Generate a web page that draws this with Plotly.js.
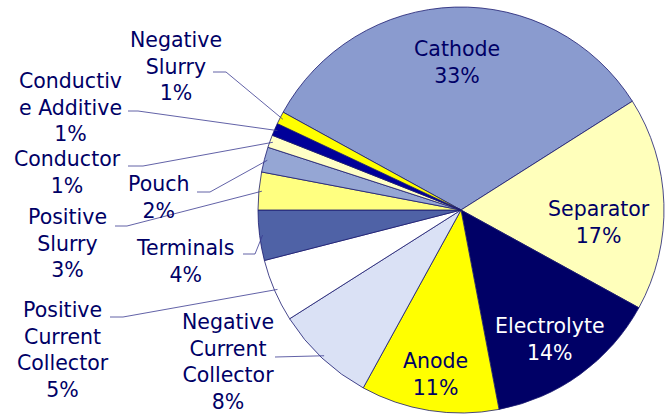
<!DOCTYPE html>
<html>
<head>
<meta charset="utf-8">
<script src="https://cdn.plot.ly/plotly-3.0.1.min.js"></script>
<style>html,body{margin:0;padding:0;background:#fff;}#chart{width:672px;height:414px;}</style>
</head>
<body>
<div id="chart"></div>
<script>
// ---- data ----
var categories = ["Cathode", "Separator", "Electrolyte", "Anode", "Negative Current Collector",
  "Positive Current Collector", "Terminals", "Positive Slurry", "Pouch", "Conductor",
  "Conductive Additive", "Negative Slurry"];
var labelText = ["Cathode", "Separator", "Electrolyte", "Anode", "Negative<br>Current<br>Collector",
  "Positive<br>Current<br>Collector", "Terminals", "Positive<br>Slurry", "Pouch", "Conductor",
  "Conductiv<br>e Additive", "Negative<br>Slurry"];
var values = [33, 17, 14, 11, 8, 5, 4, 3, 2, 1, 1, 1];

// ---- styles / layout ----
var colors = ["#8A9BCF", "#FFFFBB", "#000066", "#FFFF00", "#DAE1F5", "#FFFFFF",
  "#4F62A6", "#FFFF80", "#95A6D4", "#FFFFC6", "#000099", "#FFFF00"];
var W = 672, H = 414;
var cx = 461, cy = 210, R = 203;
var rotation = 298.8;
// label centre positions (px) and leader line start/knee (px)
var labelPos = [
  {x: 457, y: 62, inside: true},
  {x: 599, y: 222, inside: true, color: "#000066"},
  {x: 550, y: 339, inside: true, color: "#FFFFFF"},
  {x: 435, y: 374, inside: true},
  {x: 228, y: 362, line: [[275, 357], [275, 357]]},
  {x: 63, y: 350, line: [[110, 317], [123, 317]]},
  {x: 185, y: 261, line: [[243, 254], [255, 254]]},
  {x: 67, y: 244, line: [[115, 226], [127, 226]]},
  {x: 158, y: 197, line: [[197, 192], [210, 192]]},
  {x: 67, y: 172, line: [[128, 166], [143, 166]]},
  {x: 70, y: 107, line: [[128, 111], [138, 111]]},
  {x: 176, y: 66, line: [[213, 72], [226, 72]]}
];

function px(x) { return x / W; }
function py(y) { return 1 - y / H; }

var total = values.reduce(function (a, b) { return a + b; }, 0);
var annotations = [], shapes = [];
var cum = 0;
for (var i = 0; i < values.length; i++) {
  var mid = rotation + (cum + values[i] / 2) / total * 360;
  cum += values[i];
  var lp = labelPos[i];
  var pct = Math.round(values[i] / total * 100) + "%";
  annotations.push({
    x: px(lp.x), y: py(lp.y), xref: "paper", yref: "paper",
    xanchor: "center", yanchor: "middle", showarrow: false,
    text: labelText[i] + "<br>" + pct,
    font: {family: "DejaVu Sans, Verdana, sans-serif", size: 20.5, color: lp.color || "#000066"}
  });
  if (!lp.inside) {
    var a = mid * Math.PI / 180;
    var ex = cx + R * 0.985 * Math.sin(a);
    var ey = cy - R * 0.985 * Math.cos(a);
    var p = "M" + px(lp.line[0][0]) + "," + py(lp.line[0][1]) +
      " L" + px(lp.line[1][0]) + "," + py(lp.line[1][1]) +
      " L" + px(ex) + "," + py(ey);
    shapes.push({type: "path", xref: "paper", yref: "paper", path: p,
      line: {color: "#3A3A90", width: 0.8}});
  }
}

var trace = {
  type: "pie",
  labels: categories,
  values: values,
  sort: false,
  direction: "clockwise",
  rotation: rotation,
  textinfo: "none",
  hoverinfo: "none",
  marker: {colors: colors, line: {color: "#1A1A70", width: 0.8}},
  domain: {x: [(cx - R) / W, (cx + R) / W], y: [1 - (cy + R) / H, 1 - (cy - R) / H]},
  showlegend: false
};

var layout = {
  width: W, height: H,
  margin: {l: 0, r: 0, t: 0, b: 0},
  paper_bgcolor: "#FFFFFF",
  showlegend: false,
  annotations: annotations,
  shapes: shapes
};

Plotly.newPlot("chart", [trace], layout, {displayModeBar: false, staticPlot: true});
</script>
</body>
</html>
